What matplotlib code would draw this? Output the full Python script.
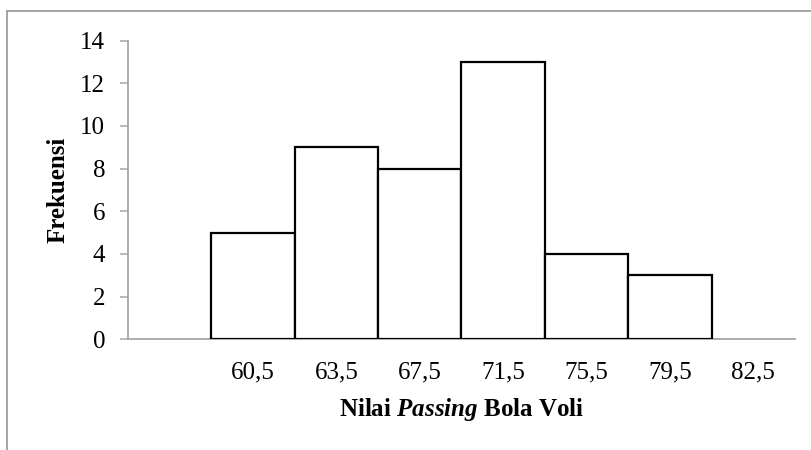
import matplotlib
matplotlib.use('Agg')
import matplotlib.pyplot as plt
from matplotlib.patches import Rectangle

plt.rcParams['font.family'] = ['Liberation Serif', 'DejaVu Serif']
plt.rcParams['mathtext.fontset'] = 'custom'
plt.rcParams['mathtext.bfit'] = 'Liberation Serif:bold:italic'

# class labels (first slot is empty, as in the original Excel chart)
categories = ['', '60,5', '63,5', '67,5', '71,5', '75,5', '79,5', '82,5']
frekuensi = [0, 5, 9, 8, 13, 4, 3, 0]
y_ticks = [0, 2, 4, 6, 8, 10, 12, 14]

fig = plt.figure(figsize=(8.11, 4.5), dpi=100)
ax = fig.add_axes([0.1578, 0.246, 0.8225, 0.6636])

pos = list(range(len(categories)))
# only draw the non-empty bins so no stray outline sits on the axis
xs = [p for p, v in zip(pos, frekuensi) if v > 0]
hs = [v for v in frekuensi if v > 0]
ax.bar(xs, hs, width=1.0, color='white', edgecolor='black', linewidth=1.6, zorder=3)

ax.set_xlim(-0.5, len(categories) - 0.5)
ax.set_ylim(0, 14)
ax.set_yticks(y_ticks)
ax.set_xticks(pos)
ax.set_xticklabels(categories)

for s in ['top', 'right']:
    ax.spines[s].set_visible(False)
for s in ['left', 'bottom']:
    ax.spines[s].set_color('#a6a6a6')
    ax.spines[s].set_linewidth(1.3)

ax.tick_params(axis='y', direction='out', length=5.8, width=1.1, color='#a6a6a6',
               labelsize=18, pad=10.5)
ax.tick_params(axis='x', length=0, labelsize=18, pad=16)

ax.set_ylabel('Frekuensi', fontsize=18, fontweight='bold', labelpad=8)
ax.set_xlabel(r'Nilai $\mathbfit{Passing}$ Bola Voli', fontsize=18,
              fontweight='bold', labelpad=9)

# light grey frame round the chart, cut off on right and bottom like the source
fig.patches.append(Rectangle((6.7 / 811, -0.1), 1.2, 1.1 - 11 / 450,
                             transform=fig.transFigure, fill=False,
                             edgecolor='#8c8c8c', linewidth=1.1))

fig.savefig('out.png', dpi=100)
